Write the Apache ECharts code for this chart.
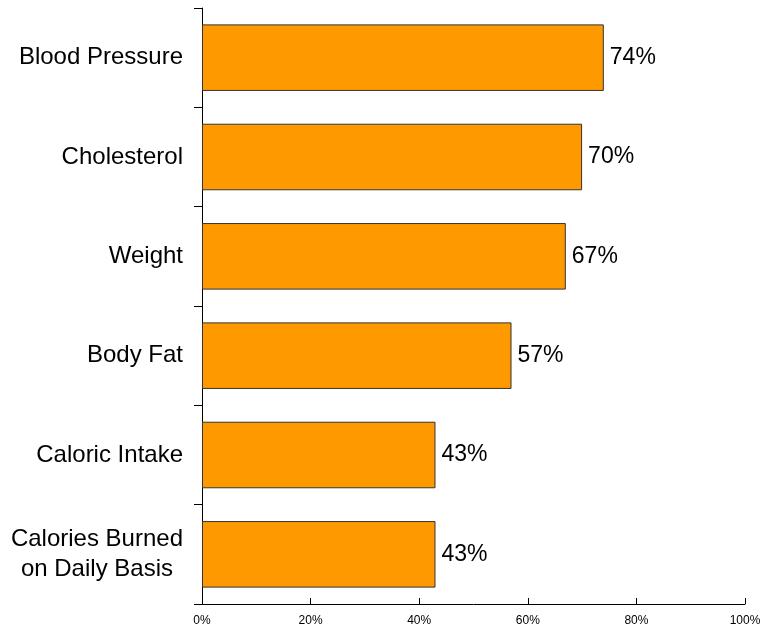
<!DOCTYPE html>
<html>
<head>
<meta charset="utf-8">
<script src="https://cdn.jsdelivr.net/npm/echarts@6/dist/echarts.min.js"></script>
<style>
  html, body { margin: 0; padding: 0; background: #fff; }
  #grafico { width: 765px; height: 629px; }
</style>
</head>
<body>
<div id="grafico"></div>
<script>
// categorias e valores (%)
const categorias = ['Blood Pressure', 'Cholesterol', 'Weight', 'Body Fat', 'Caloric Intake', 'Calories Burned\non Daily Basis'];
const valores = [74, 70, 67, 57, 43, 43];
const ticksX = [0, 20, 40, 60, 80, 100];

const grafico = echarts.init(document.getElementById('grafico'));

const fonte = 'Liberation Sans, Arial, sans-serif';

const option = {
  animation: false,
  grid: { left: 202, right: 20, top: 8, bottom: 25 },
  xAxis: {
    type: 'value',
    min: ticksX[0],
    max: ticksX[ticksX.length - 1],
    interval: 20,
    axisLine: { show: true, lineStyle: { color: '#000', width: 1 } },
    axisTick: { show: true, inside: true, length: 6, lineStyle: { color: '#000' } },
    splitLine: { show: false },
    axisLabel: {
      color: '#000',
      fontSize: 12,
      fontFamily: fonte,
      margin: 11,
      formatter: v => v + '%'
    }
  },
  yAxis: {
    type: 'category',
    data: categorias,
    inverse: true,
    axisLine: { show: true, lineStyle: { color: '#000', width: 1 } },
    axisTick: { show: true, length: 8, lineStyle: { color: '#000' } },
    axisLabel: {
      color: '#000',
      fontSize: 24,
      lineHeight: 30,
      fontFamily: fonte,
      margin: 19,
      align: 'right',
      // linhas centralizadas entre si (rótulo de duas linhas)
      formatter: v => v.split('\n').map(l => '{c|' + l + '}').join('\n'),
      rich: {
        c: { align: 'center', fontSize: 24, lineHeight: 30, fontFamily: fonte, color: '#000' }
      }
    }
  },
  series: [{
    type: 'bar',
    data: valores,
    barCategoryGap: '33%',
    itemStyle: { color: '#FF9900', borderColor: '#333', borderWidth: 1 },
    label: {
      show: true,
      position: 'right',
      distance: 6,
      color: '#000',
      fontSize: 23,
      fontFamily: fonte,
      formatter: p => p.value + '%'
    }
  }]
};

grafico.setOption(option);
window.addEventListener('resize', () => grafico.resize());
</script>
</body>
</html>
